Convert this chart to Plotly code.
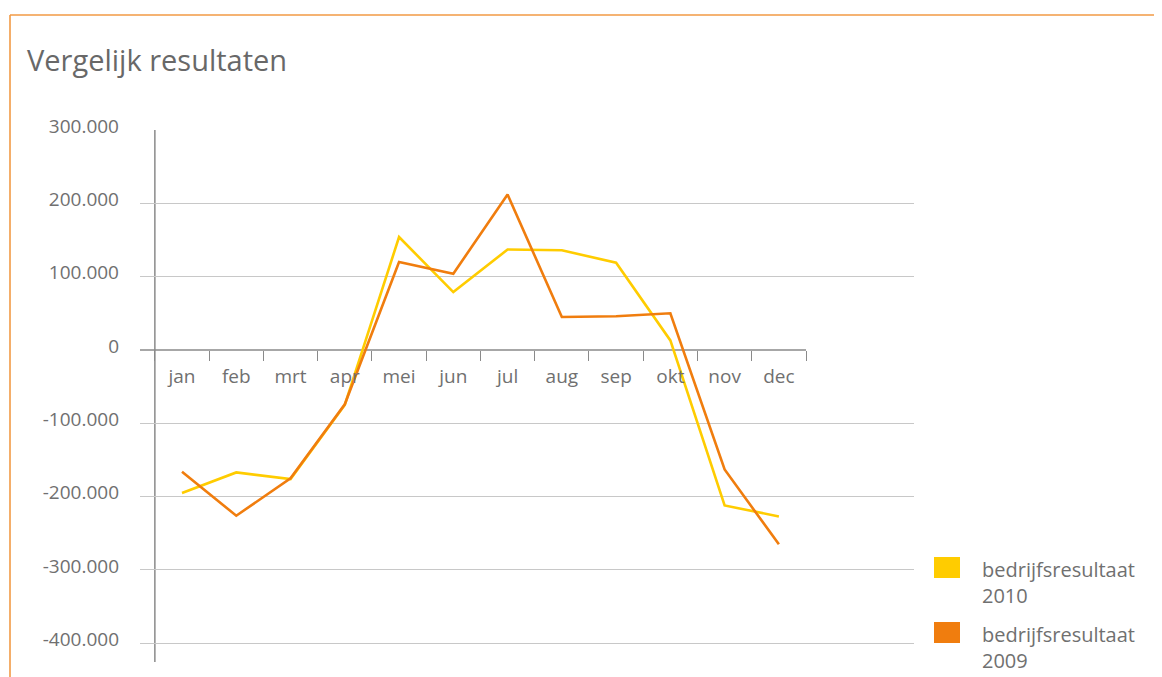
import plotly.graph_objects as go

months = ["jan", "feb", "mrt", "apr", "mei", "jun", "jul", "aug", "sep", "okt", "nov", "dec"]
result_2010 = [-195000, -167000, -176000, -75000, 154000, 79000, 137000, 136000, 119000, 13000, -212000, -227000]
result_2009 = [-166000, -226000, -175000, -74000, 120000, 104000, 212000, 45000, 46000, 50000, -163000, -265000]
series_names = ["bedrijfsresultaat<br>2010", "bedrijfsresultaat<br>2009"]
series_colors = ["#FFCC00", "#F07D0E"]
y_tickvals = [-400000, -300000, -200000, -100000, 0, 100000, 200000, 300000]
y_ticktext = ["-400.000", "-300.000", "-200.000", "-100.000", "0", "100.000", "200.000", "300.000"]
title_text = "Vergelijk resultaten"

W, H = 1162, 677
OFF = 8  # page body margin compensation
PLOT_L, PLOT_R, PLOT_T, PLOT_B = 140, 914, 130, 662  # target screen pixels
ML = PLOT_L - OFF
MT = PLOT_T - OFF
PW = PLOT_R - PLOT_L
PH = PLOT_B - PLOT_T
MR = W - ML - PW
MB = H - MT - PH

def px_x(px):
    return (px - PLOT_L) / PW

def px_y(py):
    return (PLOT_B - py) / PH

FONT = "Open Sans"
TXT = "#707070"
AXC = "#8a8a8a"

fig = go.Figure()
for vals, name, col in zip([result_2010, result_2009], series_names, series_colors):
    fig.add_trace(go.Scatter(x=months, y=vals, mode="lines", name=name,
                             line=dict(color=col, width=2.6), showlegend=False))

fig.update_layout(
    width=W, height=H,
    margin=dict(l=ML, r=MR, t=MT, b=MB),
    paper_bgcolor="white", plot_bgcolor="white",
    font=dict(family=FONT, color=TXT, size=19),
    xaxis=dict(type="category", categoryorder="array", categoryarray=months,
               range=[-0.774, 13.49], anchor="free", position=px_y(350),
               showgrid=False, showline=False, zeroline=False,
               ticks="outside", tickson="boundaries", ticklen=10,
               tickcolor=AXC, tickwidth=1.3, ticklabelstandoff=13,
               tickfont=dict(size=19, color=TXT, family=FONT), fixedrange=True),
    yaxis=dict(range=[-425500, 300000], tickvals=y_tickvals, ticktext=y_ticktext,
               showgrid=True, gridcolor="#c8c8c8", gridwidth=1,
               zeroline=True, zerolinecolor="rgba(0,0,0,0)",
               showline=False, ticks="", ticklabelstandoff=20, ticklabelshift=-4,
               tickfont=dict(size=19, color=TXT, family=FONT), fixedrange=True),
    showlegend=False,
)

# axis lines
fig.add_shape(type="line", xref="paper", yref="y", x0=0, x1=px_x(806), y0=0, y1=0,
              line=dict(color=AXC, width=1.5), layer="below")
fig.add_shape(type="line", xref="x", yref="paper", x0=-0.5, x1=-0.5, y0=0, y1=1,
              line=dict(color=AXC, width=1.5), layer="below")

# frame
BORDER = "#F29A45"
fig.add_shape(type="line", xref="paper", yref="paper", x0=px_x(10), x1=px_x(10),
              y0=px_y(15), y1=px_y(720), line=dict(color=BORDER, width=1.6))
fig.add_shape(type="line", xref="paper", yref="paper", x0=px_x(10), x1=px_x(1200),
              y0=px_y(15), y1=px_y(15), line=dict(color=BORDER, width=1.6))

# title
fig.add_annotation(text=title_text, xref="paper", yref="paper", x=px_x(25), y=px_y(59),
                   xanchor="left", yanchor="middle", showarrow=False,
                   font=dict(size=29, color="#686868", family=FONT))

# legend
for i, (name, col) in enumerate(zip(series_names, series_colors)):
    top = 557 + i * 65
    fig.add_shape(type="rect", xref="paper", yref="paper",
                  x0=px_x(934), x1=px_x(960), y0=px_y(top), y1=px_y(top + 21),
                  line=dict(width=0), fillcolor=col)
    fig.add_annotation(text=name, xref="paper", yref="paper", x=px_x(980), y=px_y(top - 3),
                       xanchor="left", yanchor="top", align="left", showarrow=False,
                       font=dict(size=20, color=TXT, family=FONT))

fig.write_html("out.html")
